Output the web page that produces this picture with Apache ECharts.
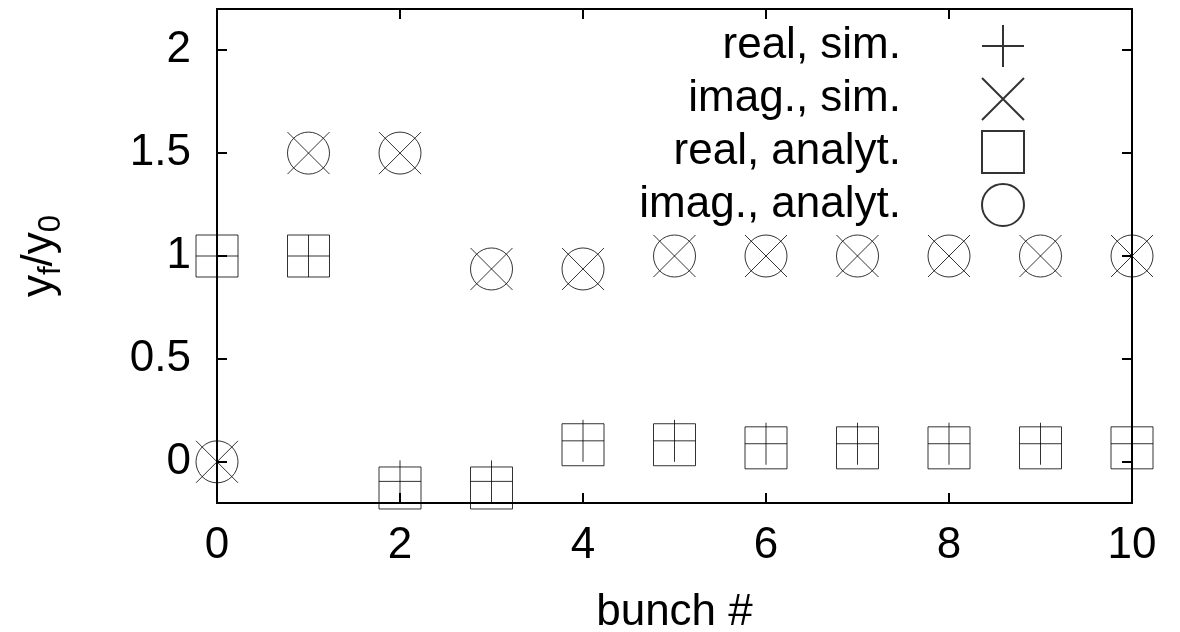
<!DOCTYPE html>
<html>
<head>
<meta charset="utf-8">
<script src="https://cdn.jsdelivr.net/npm/echarts@6/dist/echarts.min.js"></script>
<style>
html,body{margin:0;padding:0;background:#fff;}
#chart{width:1180px;height:632px;}
</style>
</head>
<body>
<div id="chart"></div>
<script>
const bunch = [0, 1, 2, 3, 4, 5, 6, 7, 8, 9, 10];
const realSim = [1, 1, -0.095, -0.095, 0.102, 0.102, 0.088, 0.088, 0.088, 0.088, 0.088];
const imagSim = [0, 1.5, 1.5, 0.937, 0.937, 1, 1, 1, 1, 1, 1];
const realAnalyt = [1, 1, -0.127, -0.127, 0.083, 0.083, 0.068, 0.068, 0.068, 0.068, 0.068];
const imagAnalyt = [0, 1.5, 1.5, 0.937, 0.937, 1, 1, 1, 1, 1, 1];
const yTicks = [0, 0.5, 1, 1.5, 2];
const seriesNames = ['real, sim.', 'imag., sim.', 'real, analyt.', 'imag., analyt.'];

const FONT = 'Liberation Sans';
const pairs = (ys) => bunch.map((x, i) => [x, ys[i]]);
const symStyle = { color: 'rgba(0,0,0,0)', borderColor: '#000', borderWidth: 1 };

function sc(name, ys, symbol) {
  return {
    type: 'scatter', name: name, data: pairs(ys), symbol: symbol, symbolSize: 42,
    itemStyle: symStyle, silent: true, clip: false,
    emphasis: { disabled: true }, z: 3
  };
}

const chart = echarts.init(document.getElementById('chart'), null, { renderer: 'canvas' });
const axisLine = { show: true, onZero: false, lineStyle: { color: '#000', width: 2 } };
const tick = { show: true, inside: true, length: 10, lineStyle: { color: '#000', width: 2 } };

chart.setOption({
  animation: false,
  textStyle: { fontFamily: FONT },
  grid: { left: 217, right: 48, top: 9, bottom: 129, containLabel: false, outerBoundsMode: 'none' },
  legend: {
    orient: 'vertical', align: 'right', right: 155, top: 24, padding: 0,
    itemWidth: 194, itemHeight: 42, itemGap: 9, selectedMode: false,
    textStyle: { fontSize: 44, color: '#000', fontFamily: FONT },
    data: seriesNames
  },
  xAxis: [{
    type: 'value', min: 0, max: 10, interval: 2, position: 'bottom',
    name: 'bunch #', nameLocation: 'middle', nameGap: 88,
    nameTextStyle: { fontSize: 44, color: '#000', fontFamily: FONT },
    axisLine: axisLine, axisTick: tick, splitLine: { show: false },
    axisLabel: { fontSize: 44, color: '#000', margin: 21, fontFamily: FONT }
  }, {
    type: 'value', min: 0, max: 10, interval: 2, position: 'top',
    axisLine: axisLine, axisTick: tick, splitLine: { show: false },
    axisLabel: { show: false }
  }],
  yAxis: [{
    type: 'value', min: -0.2, max: 2.2, position: 'left',
    name: '{m|y}{s|f}{m|/y}{s|0}', nameLocation: 'middle', nameGap: 150, nameRotate: 90,
    nameTextStyle: {
      fontSize: 44, color: '#000', fontFamily: FONT,
      rich: {
        m: { fontSize: 44, fontFamily: FONT, color: '#000' },
        s: { fontSize: 31, fontFamily: FONT, color: '#000', padding: [24, 0, 0, 0] }
      }
    },
    axisLine: axisLine,
    axisTick: Object.assign({}, tick, { customValues: yTicks }),
    splitLine: { show: false },
    axisLabel: { fontSize: 44, color: '#000', margin: 26, fontFamily: FONT, customValues: yTicks }
  }, {
    type: 'value', min: -0.2, max: 2.2, position: 'right',
    axisLine: axisLine,
    axisTick: Object.assign({}, tick, { customValues: yTicks }),
    splitLine: { show: false },
    axisLabel: { show: false }
  }],
  series: [
    sc(seriesNames[0], realSim, 'path://M0,5L10,5M5,0L5,10'),
    sc(seriesNames[1], imagSim, 'path://M0,0L10,10M0,10L10,0'),
    sc(seriesNames[2], realAnalyt, 'path://M0,0L10,0L10,10L0,10Z'),
    sc(seriesNames[3], imagAnalyt, 'circle')
  ]
});
</script>
</body>
</html>
